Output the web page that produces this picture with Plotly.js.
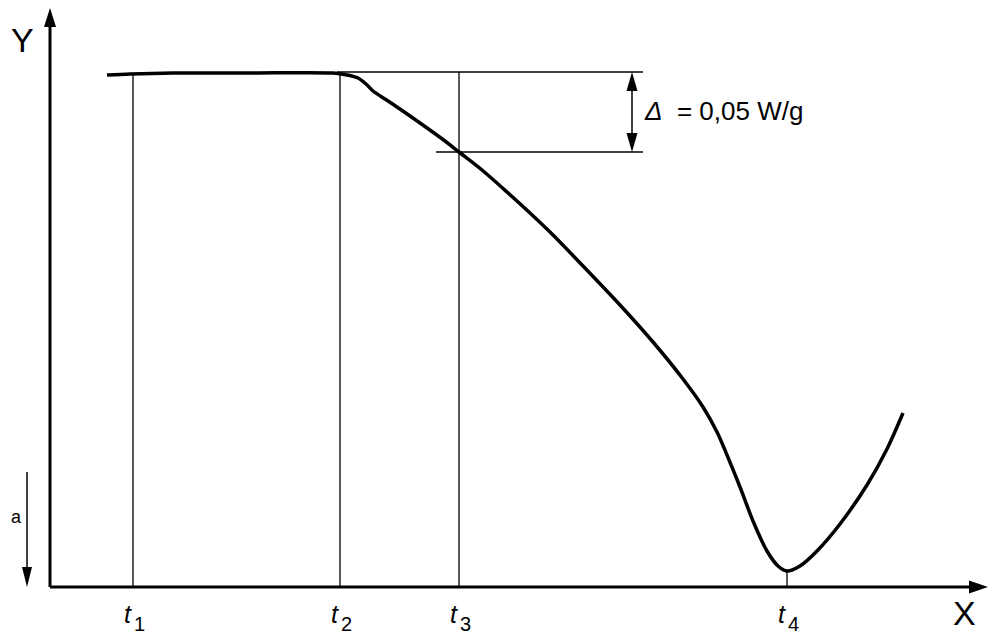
<!DOCTYPE html>
<html>
<head>
<meta charset="utf-8">
<script src="https://cdn.plot.ly/plotly-3.0.1.min.js"></script>
<style>html,body{margin:0;padding:0;background:#fff;}#chart{width:989px;height:636px;}</style>
</head>
<body>
<div id="chart"></div>
<script>
// Curve: X (time) and Y (heat flow), in drawing units with origin at axis intersection
const curveX = [57, 80, 123, 200, 283, 297, 308, 316, 323, 335, 347, 370, 395, 409, 432, 457, 480, 503, 533, 570, 603, 633, 653, 667, 677, 690, 703, 717, 728, 737, 750, 767, 790, 817, 837, 853];
const curveY = [512, 513, 514, 514, 514, 512, 509, 503, 496, 488, 480, 464, 446, 435, 417, 395, 374, 352, 321, 282, 245, 208, 180, 155, 132, 100, 66, 36, 21, 16, 21, 36, 63, 102, 138, 174];

// Characteristic times t1..t4 and the height their guide lines reach
const tNames = ["1", "2", "3", "4"];
const tX = [83, 290, 409, 737];
const tTop = [513, 514, 515, 16];

// Delta construction: two levels, their left ends, common right end
const deltaLevels = [515, 435];
const deltaStart = [287, 386];
const deltaEnd = 593;
const deltaArrowX = 582;
const deltaLabel = "<i>Δ</i>  = 0,05 W/g";

// Axis extents
const xAxisEnd = 938;
const yAxisEnd = 579;
const aArrow = {x: -23, from: 115, to: 0};

const FONT = "Liberation Sans, Arial, sans-serif";
const thin = {color: "#000", width: 1.3};

const traces = [];
tX.forEach((x, i) => {
  traces.push({x: [x, x], y: [0, tTop[i]], mode: "lines", line: thin, hoverinfo: "skip", showlegend: false});
});
deltaLevels.forEach((y, i) => {
  traces.push({x: [deltaStart[i], deltaEnd], y: [y, y], mode: "lines", line: thin, hoverinfo: "skip", showlegend: false});
});
traces.push({x: [deltaArrowX, deltaArrowX], y: [deltaLevels[1] + 12, deltaLevels[0] - 12], mode: "lines", line: {color: "#000", width: 1.5}, hoverinfo: "skip", showlegend: false});
traces.push({x: [aArrow.x, aArrow.x], y: [aArrow.from, aArrow.to + 15], mode: "lines", line: {color: "#000", width: 1.5}, hoverinfo: "skip", showlegend: false});
traces.push({x: [0, xAxisEnd - 15], y: [0, 0], mode: "lines", line: {color: "#000", width: 3}, hoverinfo: "skip", showlegend: false});
traces.push({x: [0, 0], y: [0, yAxisEnd - 15], mode: "lines", line: {color: "#000", width: 3}, hoverinfo: "skip", showlegend: false});
traces.push({x: curveX, y: curveY, mode: "lines", line: {color: "#000", width: 3.5, shape: "spline", smoothing: 0.8}, hoverinfo: "skip", showlegend: false});

function headUp(x, tip, len, hw) { return `M${x},${tip} L${x - hw},${tip - len} L${x + hw},${tip - len} Z`; }
function headDown(x, tip, len, hw) { return `M${x},${tip} L${x - hw},${tip + len} L${x + hw},${tip + len} Z`; }
function headRight(y, tip, len, hw) { return `M${tip},${y} L${tip - len},${y - hw} L${tip - len},${y + hw} Z`; }
const headStyle = {type: "path", xref: "x", yref: "y", fillcolor: "#000", line: {width: 0}};
const shapes = [
  Object.assign({path: headUp(0, yAxisEnd, 19, 6)}, headStyle),
  Object.assign({path: headRight(0, xAxisEnd, 19, 6.5)}, headStyle),
  Object.assign({path: headUp(deltaArrowX, deltaLevels[0], 19, 5.5)}, headStyle),
  Object.assign({path: headDown(deltaArrowX, deltaLevels[1], 19, 5.5)}, headStyle),
  Object.assign({path: headDown(aArrow.x, aArrow.to, 20, 5)}, headStyle)
];

const annotations = [];
tX.forEach((x, i) => {
  annotations.push({x: x, y: -27, xref: "x", yref: "y", text: "<i>t</i>", showarrow: false, xshift: -5, font: {family: FONT, size: 25, color: "#000"}});
  annotations.push({x: x, y: -37, xref: "x", yref: "y", text: tNames[i], showarrow: false, xshift: 6, font: {family: FONT, size: 20, color: "#000"}});
});
annotations.push({x: -28, y: 547, xref: "x", yref: "y", text: "Y", showarrow: false, font: {family: FONT, size: 34, color: "#000"}});
annotations.push({x: 914, y: -26, xref: "x", yref: "y", text: "X", showarrow: false, font: {family: FONT, size: 34, color: "#000"}});
annotations.push({x: -34, y: 70, xref: "x", yref: "y", text: "a", showarrow: false, font: {family: FONT, size: 18, color: "#000"}});
annotations.push({x: deltaArrowX + 10, y: 476, xref: "x", yref: "y", xanchor: "left", text: deltaLabel, showarrow: false, font: {family: FONT, size: 26, color: "#000"}});

const layout = {
  width: 989, height: 636,
  margin: {l: 0, r: 0, t: 0, b: 0},
  paper_bgcolor: "#fff", plot_bgcolor: "#fff",
  xaxis: {range: [-50, 939], visible: false, fixedrange: true},
  yaxis: {range: [-49, 587], visible: false, fixedrange: true},
  shapes: shapes,
  annotations: annotations,
  showlegend: false
};
Plotly.newPlot("chart", traces, layout, {staticPlot: true, displayModeBar: false});
</script>
</body>
</html>
